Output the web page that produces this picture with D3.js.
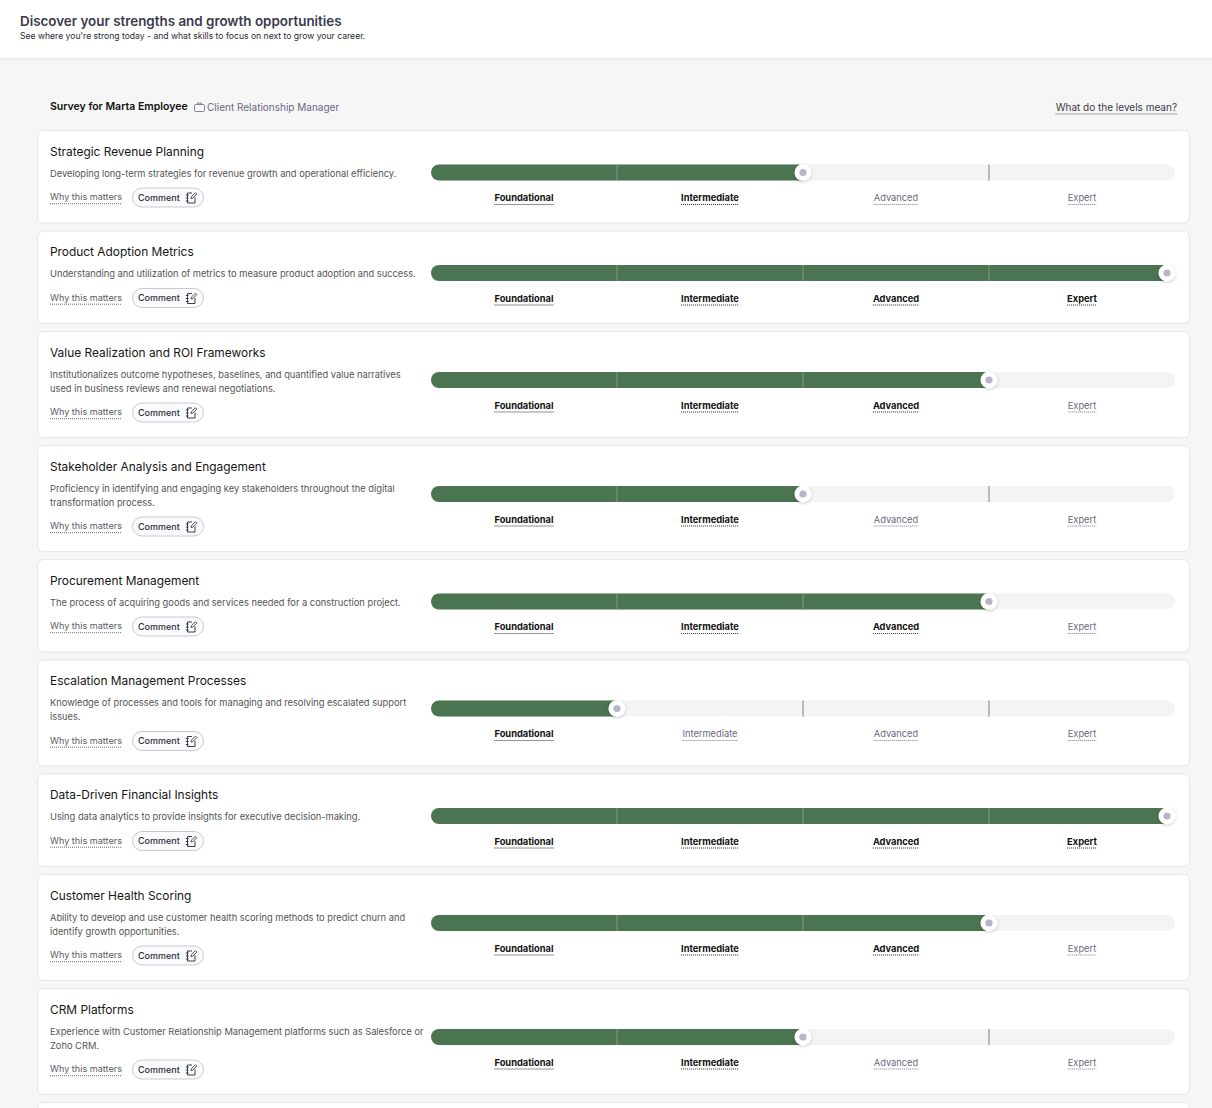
<!DOCTYPE html>
<html>
<head>
<meta charset="utf-8">
<script src="https://cdn.jsdelivr.net/npm/d3@7"></script>
<style>
  html, body { margin: 0; padding: 0; background: #f6f6f6; }
  svg { display: block; font-family: Inter, "Noto Sans", sans-serif; }
</style>
</head>
<body>
<div id="chart"></div>
<script>
// --- data ---
const skills = [
  "Strategic Revenue Planning",
  "Product Adoption Metrics",
  "Value Realization and ROI Frameworks",
  "Stakeholder Analysis and Engagement",
  "Procurement Management",
  "Escalation Management Processes",
  "Data-Driven Financial Insights",
  "Customer Health Scoring",
  "CRM Platforms"
];
const descriptions = [
  ["Developing long-term strategies for revenue growth and operational efficiency."],
  ["Understanding and utilization of metrics to measure product adoption and success."],
  ["Institutionalizes outcome hypotheses, baselines, and quantified value narratives", "used in business reviews and renewal negotiations."],
  ["Proficiency in identifying and engaging key stakeholders throughout the digital", "transformation process."],
  ["The process of acquiring goods and services needed for a construction project."],
  ["Knowledge of processes and tools for managing and resolving escalated support", "issues."],
  ["Using data analytics to provide insights for executive decision-making."],
  ["Ability to develop and use customer health scoring methods to predict churn and", "identify growth opportunities."],
  ["Experience with Customer Relationship Management platforms such as Salesforce or", "Zoho CRM."]
];
const levelValues = [2, 4, 3, 2, 3, 1, 4, 3, 2];
const levelNames = ["Foundational", "Intermediate", "Advanced", "Expert"];

const width = 1212, height = 1108;
const svg = d3.select("#chart").append("svg")
  .attr("width", width).attr("height", height);

const defs = svg.append("defs");
const sh = defs.append("filter").attr("id", "knobShadow")
  .attr("x", "-50%").attr("y", "-50%").attr("width", "200%").attr("height", "200%");
sh.append("feDropShadow").attr("dx", 0).attr("dy", 1).attr("stdDeviation", 1.4)
  .attr("flood-color", "#000").attr("flood-opacity", 0.22);
const hs = defs.append("filter").attr("id", "headShadow")
  .attr("x", "-5%").attr("y", "-50%").attr("width", "110%").attr("height", "200%");
hs.append("feDropShadow").attr("dx", 0).attr("dy", 1).attr("stdDeviation", 1.5)
  .attr("flood-color", "#000").attr("flood-opacity", 0.08);

// background
svg.append("rect").attr("width", width).attr("height", height).attr("fill", "#f6f6f6");

// header
svg.append("rect").attr("width", width).attr("height", 58).attr("fill", "#fff")
  .attr("filter", "url(#headShadow)");
svg.append("text").attr("x", 20).attr("y", 26)
  .attr("font-size", 13.4).attr("font-weight", 600).attr("fill", "#3a3a4c")
  .text("Discover your strengths and growth opportunities");
svg.append("text").attr("x", 20).attr("y", 39)
  .attr("font-size", 8.6).attr("fill", "#2a2a33")
  .text("See where you're strong today - and what skills to focus on next to grow your career.");

// dotted underline under a text node
function dottedUnder(sel, color) {
  sel.each(function () {
    const t = d3.select(this);
    const w = this.getComputedTextLength();
    const tx = +t.attr("x"), ty = +t.attr("y");
    const anchor = t.attr("text-anchor");
    const x0 = anchor === "middle" ? tx - w / 2 : anchor === "end" ? tx - w : tx;
    d3.select(this.parentNode).append("line")
      .attr("x1", x0).attr("x2", x0 + w)
      .attr("y1", ty + 3.5).attr("y2", ty + 3.5)
      .attr("stroke", color).attr("stroke-width", 0.9)
      .attr("stroke-dasharray", "1,1");
  });
}

// survey line
const surveyG = svg.append("g");
surveyG.append("text").attr("x", 50).attr("y", 110)
  .attr("font-size", 10.5).attr("font-weight", 600).attr("fill", "#111")
  .text("Survey for Marta Employee");
// briefcase icon
const bc = surveyG.append("g").attr("transform", "translate(194,102)")
  .attr("fill", "none").attr("stroke", "#7a7790").attr("stroke-width", 0.9);
bc.append("rect").attr("x", 0.5).attr("y", 2.5).attr("width", 10).attr("height", 7).attr("rx", 1);
bc.append("path").attr("d", "M3.5,2.5 V1 H7.5 V2.5");
surveyG.append("text").attr("x", 207).attr("y", 110.5)
  .attr("font-size", 10).attr("fill", "#6b6882")
  .text("Client Relationship Manager");
surveyG.append("text").attr("x", 1177).attr("y", 110.5).attr("text-anchor", "end")
  .attr("font-size", 10).attr("fill", "#3a3a48")
  .text("What do the levels mean?")
  .call(dottedUnder, "#3a3a48");

// scales
const x = d3.scaleLinear().domain([0, 4]).range([431, 1175]);
const band = d3.scaleBand().domain(levelNames).range([431, 1175]);
const barH = 16;

// card layout
const cardX = 37, cardW = 1153, gap = 7;
let yCursor = 130;
const cards = skills.map((name, i) => {
  const lines = descriptions[i].length;
  const h = lines > 1 ? 107 : 93.5;
  const c = { name, desc: descriptions[i], level: levelValues[i], y: yCursor, h, lines };
  yCursor += h + gap;
  return c;
});

const card = svg.selectAll("g.card").data(cards).join("g")
  .attr("class", "card")
  .attr("transform", d => `translate(0,${d.y})`);

card.append("rect")
  .attr("x", cardX + 0.5).attr("y", 0.5)
  .attr("width", cardW - 1).attr("height", d => d.h - 1)
  .attr("rx", 6).attr("fill", "#fff").attr("stroke", "#e6e6ea");

card.append("text").attr("x", 50).attr("y", 25.5)
  .attr("font-size", 11.9).attr("fill", "#161616")
  .text(d => d.name);

card.each(function (d) {
  const g = d3.select(this);
  d.desc.forEach((line, j) => {
    g.append("text").attr("x", 50).attr("y", 46.5 + j * 14)
      .attr("font-size", 9.3).attr("fill", "#555")
      .text(line);
  });
});

// links row
const linkY = d => (d.lines > 1 ? 81 : 67);
card.append("text").attr("x", 50).attr("y", d => linkY(d) + 3.2)
  .attr("font-size", 9.1).attr("fill", "#5a5a66")
  .text("Why this matters")
  .call(dottedUnder, "#5a5a66");

const btn = card.append("g").attr("transform", d => `translate(132,${linkY(d) - 9.5})`);
btn.append("rect").attr("x", 0.5).attr("y", 0.5).attr("width", 71).attr("height", 19)
  .attr("rx", 9.5).attr("fill", "#fbfbfd").attr("stroke", "#c9c8d6");
btn.append("text").attr("x", 6).attr("y", 13)
  .attr("font-size", 9).attr("font-weight", 500).attr("fill", "#2c2c36")
  .text("Comment");
// note + pencil icon
const ic = btn.append("g").attr("transform", "translate(53,4)")
  .attr("fill", "none").attr("stroke", "#3a3a44").attr("stroke-width", 1);
ic.append("path").attr("d", "M7,1.5 H2.5 V11.5 H10 V6");
ic.append("path").attr("d", "M0.8,3.5 H3.5 M0.8,6.5 H3.5 M0.8,9.5 H3.5");
ic.append("path").attr("d", "M6,7 L6.4,5.2 L10.4,1.2 L11.8,2.6 L7.8,6.6 Z").attr("stroke-width", 0.9);

// bar
const barY = d => (d.lines > 1 ? 49 : 42.5);
const bar = card.append("g").attr("transform", d => `translate(0,${barY(d)})`);

bar.append("rect")
  .attr("x", x(0)).attr("y", -barH / 2)
  .attr("width", x(4) - x(0)).attr("height", barH)
  .attr("rx", barH / 2).attr("fill", "#f4f4f5");

bar.append("rect")
  .attr("x", x(0)).attr("y", -barH / 2)
  .attr("width", d => (d.level >= 4 ? x(4) : x(d.level) + barH / 2) - x(0))
  .attr("height", barH)
  .attr("rx", barH / 2).attr("fill", "#4b7450");

bar.selectAll("line.div")
  .data(d => [1, 2, 3].map(t => ({ t, filled: t < d.level })))
  .join("line")
  .attr("class", "div")
  .attr("x1", t => x(t.t)).attr("x2", t => x(t.t))
  .attr("y1", -barH / 2).attr("y2", barH / 2)
  .attr("stroke", t => (t.filled ? "#8ea291" : "#8b879e"))
  .attr("stroke-width", t => (t.filled ? 0.8 : 1.1));

const knobX = d => Math.min(x(d.level), x(4) - barH / 2);
bar.append("circle")
  .attr("cx", knobX).attr("cy", 0).attr("r", 8.5)
  .attr("fill", "#fff").attr("filter", "url(#knobShadow)");
bar.append("circle")
  .attr("cx", knobX).attr("cy", 0).attr("r", 3.6)
  .attr("fill", "#b7b5c7");

// level labels
bar.selectAll("text.lvl")
  .data(d => levelNames.map((n, k) => ({ n, on: k < d.level })))
  .join("text")
  .attr("class", "lvl")
  .attr("x", t => band(t.n) + band.bandwidth() / 2)
  .attr("y", 28.5)
  .attr("text-anchor", "middle")
  .attr("font-size", 9.3)
  .attr("font-weight", t => (t.on ? 700 : 400))
  .attr("fill", t => (t.on ? "#111" : "#6b6882"))
  .text(t => t.n)
  .each(function (t) {
    const w = this.getComputedTextLength();
    const cx = +d3.select(this).attr("x");
    d3.select(this.parentNode).append("line")
      .attr("x1", cx - w / 2).attr("x2", cx + w / 2)
      .attr("y1", 32).attr("y2", 32)
      .attr("stroke", t.on ? "#111" : "#6b6882")
      .attr("stroke-width", 0.9).attr("stroke-dasharray", "1,1");
  });

// next card peeking in at the bottom
svg.append("rect")
  .attr("x", cardX + 0.5).attr("y", yCursor + 0.5)
  .attr("width", cardW - 1).attr("height", 60)
  .attr("rx", 6).attr("fill", "#fff").attr("stroke", "#e6e6ea");
</script>
</body>
</html>
